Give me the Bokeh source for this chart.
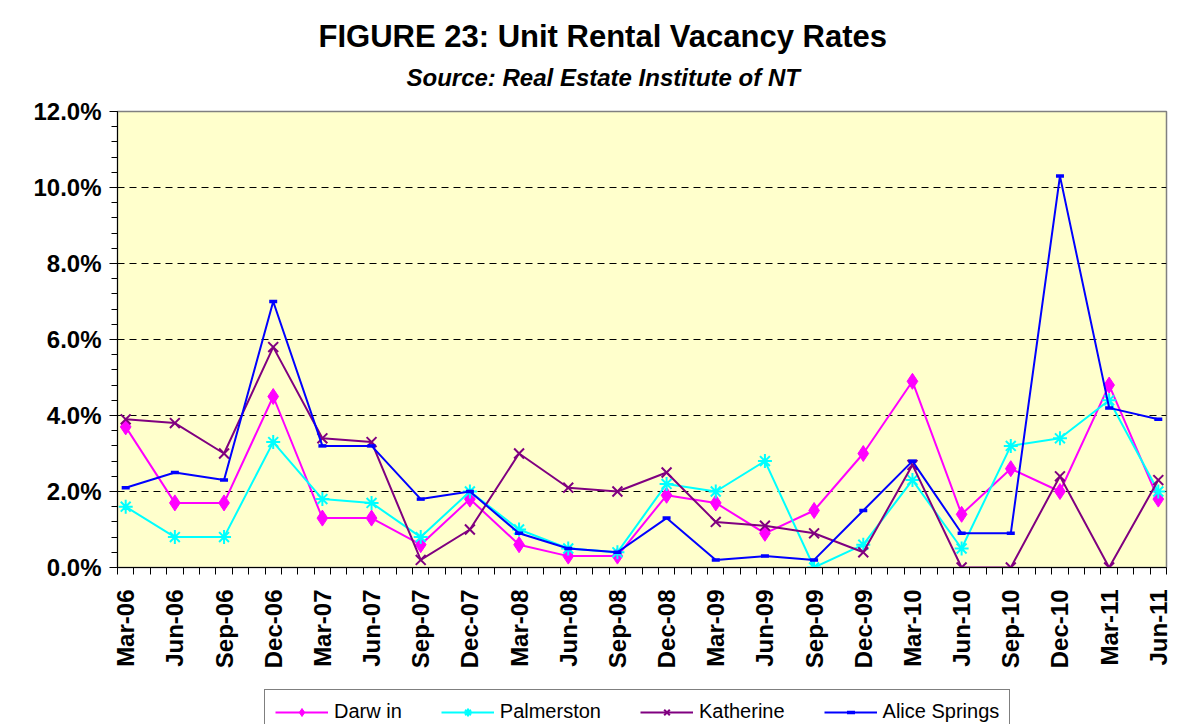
import math
from bokeh.plotting import figure
from bokeh.layouts import column
from bokeh.models import (FixedTicker, PrintfTickFormatter, Range1d, Legend,
                          LegendItem, Title, ColumnDataSource)
from bokeh.embed import file_html
from bokeh.resources import INLINE

# ---------------- data ----------------
quarters = ["Mar-06", "Jun-06", "Sep-06", "Dec-06", "Mar-07", "Jun-07", "Sep-07",
            "Dec-07", "Mar-08", "Jun-08", "Sep-08", "Dec-08", "Mar-09", "Jun-09",
            "Sep-09", "Dec-09", "Mar-10", "Jun-10", "Sep-10", "Dec-10", "Mar-11",
            "Jun-11"]
darwin = [3.7, 1.7, 1.7, 4.5, 1.3, 1.3, 0.6, 1.8, 0.6, 0.3, 0.3, 1.9, 1.7, 0.9,
          1.5, 3.0, 4.9, 1.4, 2.6, 2.0, 4.8, 1.8]
palmerston = [1.6, 0.8, 0.8, 3.3, 1.8, 1.7, 0.8, 2.0, 1.0, 0.5, 0.4, 2.2, 2.0, 2.8,
              0.0, 0.6, 2.3, 0.5, 3.2, 3.4, 4.4, 2.0]
katherine = [3.9, 3.8, 3.0, 5.8, 3.4, 3.3, 0.2, 1.0, 3.0, 2.1, 2.0, 2.5, 1.2, 1.1,
             0.9, 0.4, 2.7, 0.0, 0.0, 2.4, 0.0, 2.3]
alice = [2.1, 2.5, 2.3, 7.0, 3.2, 3.2, 1.8, 2.0, 0.9, 0.5, 0.4, 1.3, 0.2, 0.3,
         0.2, 1.5, 2.8, 0.9, 0.9, 10.3, 4.2, 3.9]
series_names = ["Darw in", "Palmerston", "Katherine", "Alice Springs"]
y_ticks = [0, 2, 4, 6, 8, 10, 12]

# month axis: each quarter label sits in the middle of its month cell
n_months = 3 * (len(quarters) - 1) + 1
xpos = [3 * i + 0.5 for i in range(len(quarters))]

src = ColumnDataSource(dict(x=xpos, darwin=darwin, palmerston=palmerston,
                            katherine=katherine, alice=alice))

FONT = "Liberation Sans"

p = figure(width=1196, height=689, output_backend="svg", toolbar_location=None,
           x_range=Range1d(0, n_months), y_range=Range1d(0, 12),
           min_border_left=117, min_border_right=30, min_border_top=111,
           min_border_bottom=122, title=None)
p.background_fill_color = "#FFFFCC"
p.border_fill_color = "white"
p.outline_line_color = "#808080"
p.outline_line_width = 1.5

# titles
sub = Title(text="Source: Real Estate Institute of NT", align="left",
            text_font=FONT, text_font_size="24px", text_font_style="bold italic",
            text_color="black", offset=289, standoff=41)
main = Title(text="FIGURE 23: Unit Rental Vacancy Rates", align="left",
             text_font=FONT, text_font_size="31px", text_font_style="bold",
             text_color="black", offset=201, standoff=-24)
p.add_layout(sub, "above")
p.add_layout(main, "above")

# axes
xa = p.xaxis[0]
xa.ticker = FixedTicker(ticks=xpos, minor_ticks=list(range(0, n_months + 1)))
xa.major_label_overrides = {x: q for x, q in zip(xpos, quarters)}
xa.major_label_orientation = math.pi / 2
xa.major_label_text_font = FONT
xa.major_label_text_font_size = "24px"
xa.major_label_text_font_style = "bold"
xa.major_label_text_color = "black"
xa.major_tick_line_color = None
xa.major_tick_out = 8
xa.major_tick_in = 0
xa.major_label_standoff = 14
xa.minor_tick_out = 7
xa.minor_tick_in = 0
xa.minor_tick_line_color = "black"
xa.axis_line_color = "black"

ya = p.yaxis[0]
ya.ticker = FixedTicker(ticks=y_ticks,
                        minor_ticks=[round(0.4 * k, 1) for k in range(31)])
ya.formatter = PrintfTickFormatter(format="%.1f%%")
ya.major_label_text_font = FONT
ya.major_label_text_font_size = "24px"
ya.major_label_text_font_style = "bold"
ya.major_label_text_color = "black"
ya.major_tick_out = 8
ya.major_tick_in = 0
ya.minor_tick_out = 6
ya.minor_tick_in = 0
ya.major_tick_line_color = "black"
ya.minor_tick_line_color = "black"
ya.axis_line_color = "black"
ya.major_label_standoff = 8

p.xgrid.grid_line_color = None
p.ygrid.ticker = FixedTicker(ticks=y_ticks[1:-1])
p.ygrid.grid_line_color = "black"
p.ygrid.grid_line_dash = "7 5"
p.ygrid.grid_line_width = 1

STYLES = [
    ("darwin", "#FF00FF", dict(marker="diamond", size=16, fill_color="#FF00FF",
                               line_color="#FF00FF")),
    ("palmerston", "#00FFFF", dict(marker="asterisk", size=14,
                                   line_color="#00FFFF", line_width=2)),
    ("katherine", "#800080", dict(marker="x", size=14, line_color="#800080",
                                  line_width=2)),
    ("alice", "#0000FF", dict(marker="dash", size=8, line_color="#0000FF",
                              line_width=3.5)),
]


def draw(fig):
    out = []
    for col, color, mk in STYLES:
        r1 = fig.line("x", col, source=src, line_color=color, line_width=2)
        r2 = fig.scatter("x", col, source=src, **mk)
        out.append([r1, r2])
    return out


draw(p)

# legend strip below the chart (box bottom runs off the page, as in the source)
lf = figure(width=1196, height=35, output_backend="svg", toolbar_location=None,
            x_range=Range1d(1000, 1001), y_range=Range1d(1000, 1001),
            x_axis_location=None, y_axis_location=None, min_border=0)
lf.grid.visible = False
lf.outline_line_color = None
lf.background_fill_color = "white"
lf.border_fill_color = "white"
leg_renderers = draw(lf)

legend = Legend(items=[LegendItem(label=n, renderers=r)
                       for n, r in zip(series_names, leg_renderers)],
                orientation="horizontal", location=(147, -10))
legend.label_text_font = FONT
legend.label_text_font_size = "20px"
legend.label_text_color = "black"
legend.glyph_width = 53
legend.glyph_height = 20
legend.label_height = 20
legend.label_standoff = 6
legend.spacing = 39
legend.padding = 10
legend.margin = 0
legend.border_line_color = "black"
legend.border_line_width = 1
legend.background_fill_color = "white"
legend.background_fill_alpha = 1
lf.add_layout(legend, "center")

page = column(p, lf, spacing=0)
open("out.html", "w").write(file_html(page, INLINE))
